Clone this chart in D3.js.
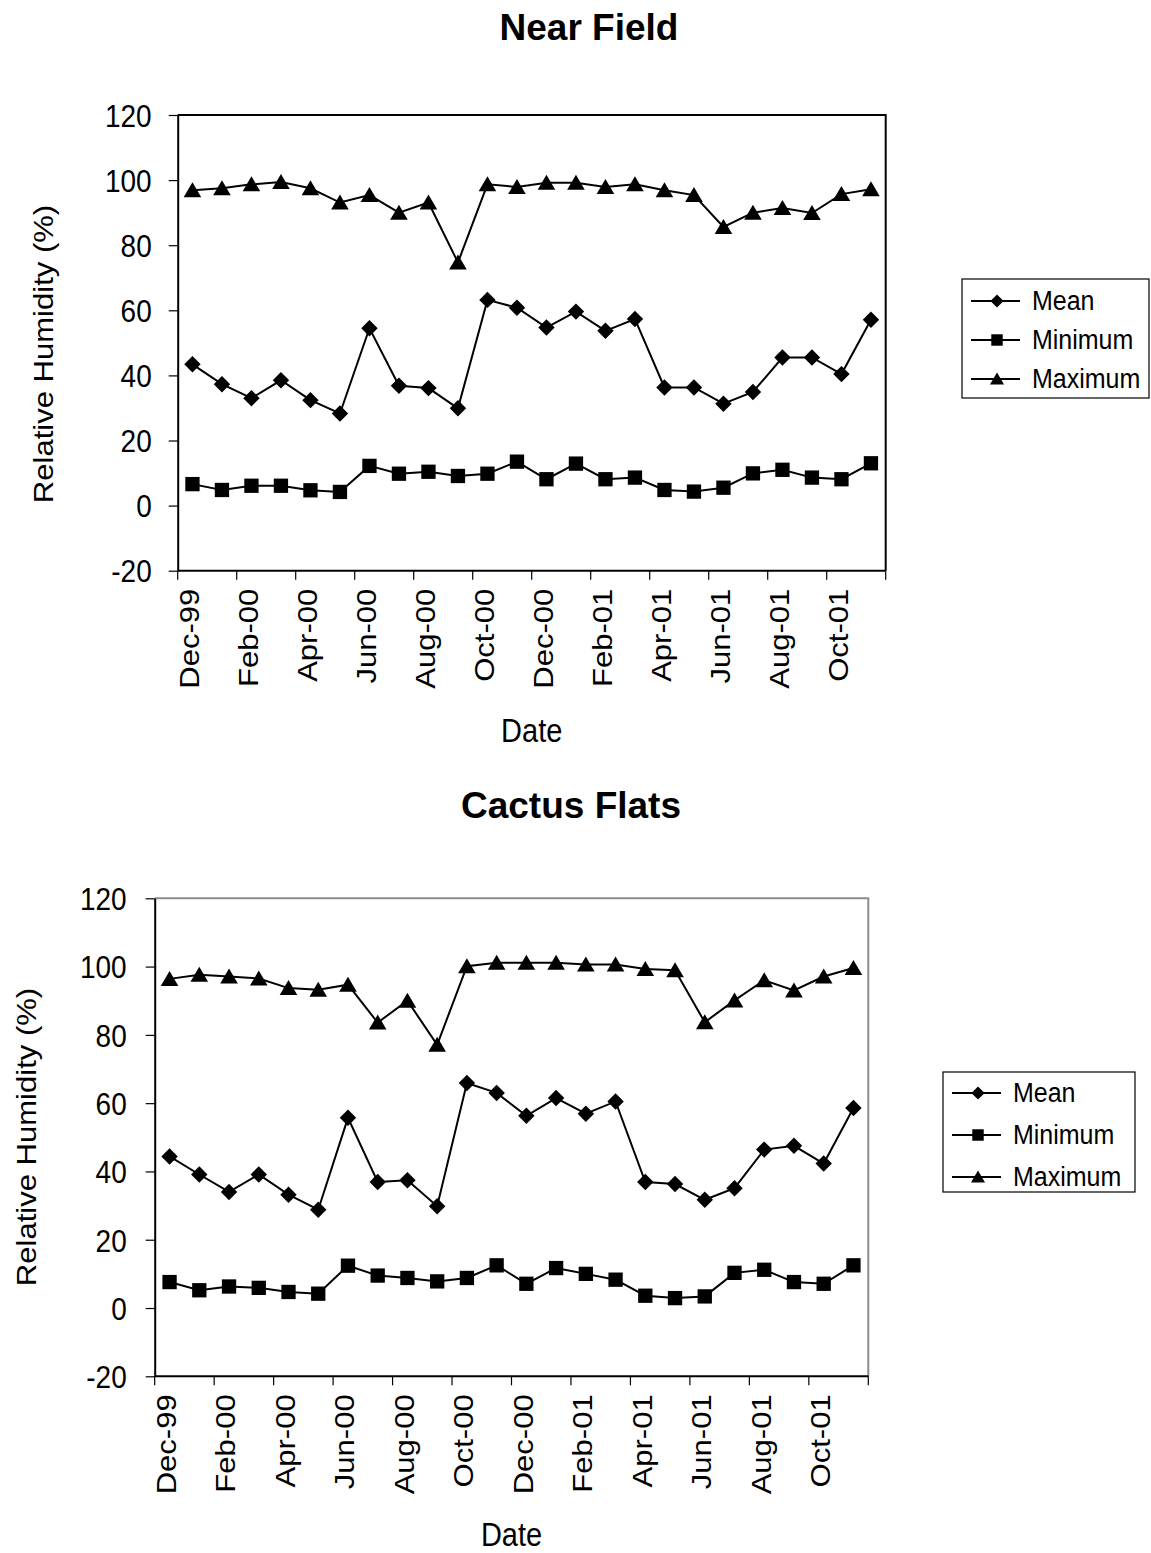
<!DOCTYPE html>
<html>
<head>
<meta charset="utf-8">
<script src="https://cdn.jsdelivr.net/npm/d3@7"></script>
<style>
  html, body { margin: 0; padding: 0; background: #fff; }
  svg { display: block; font-family: "Liberation Sans", Arial, sans-serif; }
</style>
</head>
<body>
<svg id="chart" width="1151" height="1553"></svg>
<script>
// Monthly relative humidity, Dec-99 .. Nov-01
const months = ["Dec-99","Jan-00","Feb-00","Mar-00","Apr-00","May-00","Jun-00","Jul-00",
  "Aug-00","Sep-00","Oct-00","Nov-00","Dec-00","Jan-01","Feb-01","Mar-01","Apr-01",
  "May-01","Jun-01","Jul-01","Aug-01","Sep-01","Oct-01","Nov-01"];
const monthTickLabels = ["Dec-99","Feb-00","Apr-00","Jun-00","Aug-00","Oct-00",
  "Dec-00","Feb-01","Apr-01","Jun-01","Aug-01","Oct-01"];
const yTicks = [-20, 0, 20, 40, 60, 80, 100, 120];

// Near Field
const nearMean = [43.4, 37.3, 33.0, 38.5, 32.4, 28.3, 54.5, 36.8, 36.1, 29.9, 63.2, 60.8,
  54.7, 59.6, 53.7, 57.3, 36.3, 36.3, 31.3, 34.9, 45.5, 45.5, 40.4, 57.1];
const nearMin = [6.6, 4.8, 6.1, 6.1, 4.7, 4.2, 12.2, 9.8, 10.4, 9.1, 9.8, 13.5,
  8.1, 12.9, 8.1, 8.6, 4.8, 4.3, 5.5, 9.9, 11.0, 8.6, 8.1, 13.0];
const nearMax = [96.9, 97.5, 98.7, 99.4, 97.5, 93.1, 95.4, 90.0, 93.1, 74.7, 98.7, 97.9,
  99.2, 99.2, 97.9, 98.7, 96.9, 95.4, 85.6, 90.0, 91.4, 89.9, 95.7, 97.2];

// Cactus Flats
const cactusMean = [44.4, 39.1, 34.0, 39.1, 33.2, 28.8, 55.7, 36.9, 37.4, 29.8, 65.9, 63.0,
  56.3, 61.5, 56.9, 60.5, 36.9, 36.3, 31.7, 35.1, 46.4, 47.5, 42.3, 58.6];
const cactusMin = [7.6, 5.2, 6.3, 5.9, 4.7, 4.2, 12.4, 9.5, 8.8, 7.8, 8.8, 12.5,
  7.1, 11.7, 10.0, 8.3, 3.6, 2.9, 3.4, 10.3, 11.2, 7.6, 7.1, 12.5];
const cactusMax = [96.4, 97.6, 97.1, 96.5, 93.7, 93.2, 94.7, 83.6, 90.0, 77.1, 100.1, 101.1,
  101.1, 101.1, 100.6, 100.6, 99.3, 98.9, 83.7, 90.1, 96.0, 93.0, 97.1, 99.6];

const seriesNames = ["Mean", "Minimum", "Maximum"];

const svg = d3.select("#chart");
const FONT = "Liberation Sans, Arial, sans-serif";
const STRETCH = 1.15; // axis text is drawn slightly taller than wide

// marker shapes centred on the data point
const markerPath = {
  Mean: () => d3.symbol().type(d3.symbolSquare).size(135)(),
  Minimum: () => d3.symbol().type(d3.symbolSquare).size(205)(),
  Maximum: () => { const p = d3.path(); p.moveTo(0, -8); p.lineTo(8.8, 7); p.lineTo(-8.8, 7); p.closePath(); return p.toString(); }
};
const markerRotate = { Mean: 45, Minimum: 0, Maximum: 0 };

function drawPanel(cfg) {
  const g = svg.append("g");
  const x = d3.scaleBand().domain(months).range([cfg.left, cfg.right]).padding(0);
  const y = d3.scaleLinear().domain([-20, 120]).range([cfg.bottom, cfg.top]);
  const cx = m => x(m) + x.bandwidth() / 2;

  // title
  g.append("text").attr("x", cfg.titleX).attr("y", cfg.titleY)
    .attr("text-anchor", "middle").attr("font-size", 37).attr("font-weight", "bold")
    .text(cfg.title);

  // plot frame (top/right)
  g.append("path")
    .attr("d", `M${cfg.left},${cfg.top}H${cfg.right}V${cfg.bottom}`)
    .attr("fill", "none").attr("stroke", cfg.frameColor).attr("stroke-width", 2);

  // y axis
  const yAxis = g.append("g").attr("transform", `translate(${cfg.left},0)`)
    .call(d3.axisLeft(y).tickValues(yTicks).tickFormat(d => String(d))
      .tickSize(9).tickPadding(0).tickSizeOuter(0));
  yAxis.select(".domain").attr("stroke", "#000").attr("stroke-width", 2);
  yAxis.selectAll(".tick line").attr("stroke", "#000").attr("stroke-width", 1.2);
  yAxis.selectAll(".tick text")
    .attr("x", null)
    .attr("transform", `translate(${-cfg.yPad},0) scale(1,${STRETCH})`)
    .attr("dy", "0.35em")
    .attr("font-size", 28).attr("font-family", FONT).attr("fill", "#000");

  // x axis: ticks on month boundaries every two months, labels centred in the month
  const xg = g.append("g");
  xg.append("line").attr("x1", cfg.left).attr("x2", cfg.right)
    .attr("y1", cfg.bottom).attr("y2", cfg.bottom).attr("stroke", "#000").attr("stroke-width", 2);
  const tickPos = monthTickLabels.map(m => x(m)).concat([cfg.right]);
  xg.selectAll("line.tk").data(tickPos).join("line").attr("class", "tk")
    .attr("x1", d => d).attr("x2", d => d)
    .attr("y1", cfg.bottom).attr("y2", cfg.bottom + 9)
    .attr("stroke", "#000").attr("stroke-width", 1.2);
  xg.selectAll("text").data(monthTickLabels).join("text")
    .attr("transform", d => `translate(${cx(d) - 3},${cfg.bottom + 18}) scale(1,${STRETCH}) rotate(-90)`)
    .attr("text-anchor", "end").attr("dy", "0.35em")
    .attr("font-size", 27).text(d => d);

  // axis titles
  g.append("text")
    .attr("transform", `translate(${(cfg.left + cfg.right) / 2},${cfg.dateY}) scale(1,${STRETCH})`)
    .attr("text-anchor", "middle").attr("font-size", 29).text("Date");
  g.append("text")
    .attr("transform", `translate(${cfg.yTitleX},${cfg.yTitleY}) scale(1,${STRETCH}) rotate(-90)`)
    .attr("text-anchor", "middle").attr("dy", "0.35em").attr("font-size", 27).text("Relative Humidity (%)");

  // series
  const data = { Mean: cfg.mean, Minimum: cfg.min, Maximum: cfg.max };
  const line = d3.line().x((d, i) => cx(months[i])).y(d => y(d));
  seriesNames.forEach(name => {
    const vals = data[name];
    g.append("path").datum(vals).attr("d", line)
      .attr("fill", "none").attr("stroke", "#000").attr("stroke-width", 2);
    g.selectAll(null).data(vals).join("path")
      .attr("d", markerPath[name]())
      .attr("transform", (d, i) => `translate(${cx(months[i])},${y(d)}) rotate(${markerRotate[name]})`)
      .attr("fill", "#000");
  });

  // legend
  const L = cfg.legend;
  g.append("rect").attr("x", L.x).attr("y", L.y).attr("width", L.w).attr("height", L.h)
    .attr("fill", "#fff").attr("stroke", "#000").attr("stroke-width", 1.2);
  seriesNames.forEach((name, i) => {
    const yy = L.y + L.first + i * L.step;
    g.append("line").attr("x1", L.x + 9).attr("x2", L.x + 58).attr("y1", yy).attr("y2", yy)
      .attr("stroke", "#000").attr("stroke-width", 2);
    g.append("path").attr("d", markerPath[name]())
      .attr("transform", `translate(${L.x + 35},${yy}) rotate(${markerRotate[name]}) scale(0.8)`)
      .attr("fill", "#000");
    g.append("text")
      .attr("transform", `translate(${L.x + 70},${yy}) scale(1,1.08)`)
      .attr("dy", "0.35em").attr("font-size", 25).text(name);
  });
}

drawPanel({
  title: "Near Field", titleX: 589, titleY: 40,
  left: 177.7, right: 885.7, top: 115, bottom: 570.7,
  frameColor: "#000", yPad: 26, dateY: 742, yTitleX: 44, yTitleY: 354,
  mean: nearMean, min: nearMin, max: nearMax,
  legend: { x: 962, y: 279, w: 187, h: 119, first: 22, step: 39 }
});

drawPanel({
  title: "Cactus Flats", titleX: 571, titleY: 818,
  left: 154.7, right: 868.3, top: 898.3, bottom: 1376.3,
  frameColor: "#8c8c8c", yPad: 28, dateY: 1546, yTitleX: 27, yTitleY: 1137,
  mean: cactusMean, min: cactusMin, max: cactusMax,
  legend: { x: 943, y: 1072, w: 192, h: 120, first: 21, step: 42 }
});
</script>
</body>
</html>
